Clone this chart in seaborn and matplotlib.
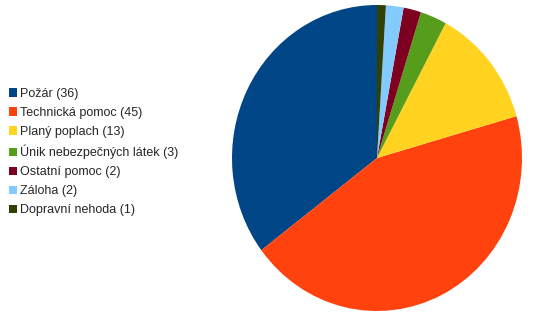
import matplotlib
matplotlib.use("Agg")
import matplotlib.pyplot as plt
import seaborn as sns

categories = ["Požár", "Technická pomoc", "Planý poplach", "Únik nebezpečných látek",
              "Ostatní pomoc", "Záloha", "Dopravní nehoda"]
values = [36, 45, 13, 3, 2, 2, 1]
colors = ["#004586", "#ff420e", "#ffd320", "#579d1c", "#7e0021", "#83caff", "#314004"]
labels = [f"{c} ({v})" for c, v in zip(categories, values)]

sns.set_theme(style="white")
plt.rcParams['font.family'] = ['Liberation Sans', 'DejaVu Sans']

W, H = 539, 320
fig = plt.figure(figsize=(W / 100, H / 100), dpi=100)
cx, cy, rx, ry = 377, 158, 145, 153
ax = fig.add_axes([(cx - rx) / W, (H - cy - ry) / H, 2 * rx / W, 2 * ry / H])
wedges, _ = ax.pie(values, colors=sns.color_palette(colors), startangle=90, counterclock=True,
                   wedgeprops=dict(linewidth=0))
ax.set_aspect("auto")
ax.set_xlim(-1, 1)
ax.set_ylim(-1, 1)
ax.axis("off")

fig.legend(wedges, labels, loc="upper left", bbox_to_anchor=(5 / W, 1 - 84 / H),
           frameon=False, fontsize=9, handlelength=0.65, handleheight=0.65,
           handletextpad=0.25, labelspacing=0.56, borderaxespad=0, borderpad=0.3)

fig.savefig("out.png", dpi=100)
